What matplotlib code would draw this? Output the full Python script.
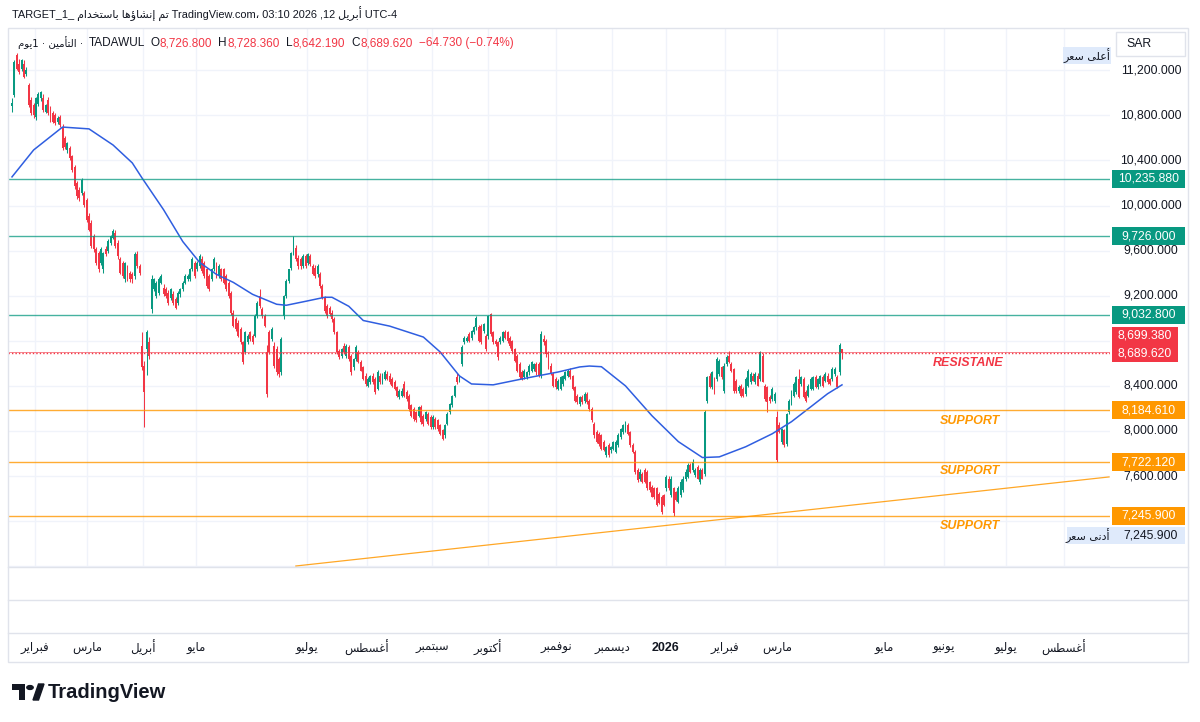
import numpy as np
import matplotlib
matplotlib.use("Agg")
import matplotlib.pyplot as plt
import matplotlib.transforms as mtrans
from matplotlib.patches import Rectangle, Circle, Polygon
from matplotlib.lines import Line2D

plt.rcParams['font.family'] = ['Liberation Sans', 'DejaVu Sans']

# ---------------- data ----------------
opens = [10880, 10980, 11333, 11259, 11215, 11259, 11171, 11068, 10935, 10891,
         10788, 10900, 10950, 10950, 10832, 10935, 10862, 10817, 10803, 10744,
         10788, 10700, 10597, 10494, 10508, 10435, 10346, 10199, 10140, 10111,
         10111, 10052, 9905, 9846, 9728, 9610, 9581, 9492, 9433, 9610,
         9595, 9669, 9713, 9757, 9669, 9522, 9492, 9345, 9448, 9404,
         9389, 9374, 9566, 9463, 8756, 8579, 8727, 8785, 9080, 9257,
         9198, 9227, 9316, 9271, 9257, 9227, 9183, 9212, 9168, 9139,
         9212, 9257, 9316, 9345, 9345, 9433, 9492, 9433, 9463, 9522,
         9492, 9433, 9374, 9345, 9433, 9478, 9374, 9433, 9433, 9374,
         9316, 9227, 9050, 8992, 8962, 8903, 8785, 8697, 8785, 8874,
         8844, 8844, 9021, 9198, 9080, 9021, 8700, 8874, 8815, 8756,
         8727, 8638, 8520, 9021, 9198, 9330, 9448, 9580, 9625, 9536,
         9522, 9463, 9551, 9492, 9551, 9463, 9448, 9389, 9389, 9286,
         9183, 9109, 9095, 9050, 8992, 8874, 8712, 8668, 8756, 8668,
         8741, 8668, 8565, 8638, 8697, 8609, 8565, 8491, 8402, 8432,
         8491, 8461, 8373, 8491, 8432, 8461, 8506, 8491, 8461, 8432,
         8388, 8300, 8314, 8417, 8343, 8314, 8226, 8196, 8167, 8137,
         8211, 8137, 8108, 8152, 8122, 8034, 8108, 8093, 8049, 8005,
         7960, 8064, 8167, 8226, 8314, 8476, 8447, 8594, 8785, 8800,
         8859, 8829, 8874, 8918, 8918, 8932, 8888, 8844, 8844, 9036,
         8874, 8800, 8785, 8785, 8800, 8874, 8874, 8829, 8800, 8726,
         8667, 8594, 8520, 8476, 8476, 8520, 8535, 8550, 8594, 8594,
         8491, 8815, 8800, 8697, 8579, 8506, 8461, 8373, 8373, 8417,
         8461, 8491, 8535, 8491, 8388, 8314, 8240, 8300, 8270, 8329,
         8270, 8196, 8064, 7990, 7975, 7961, 7902, 7784, 7872, 7828,
         7843, 7813, 7872, 7946, 7990, 8005, 8049, 7990, 7872, 7813,
         7651, 7578, 7622, 7651, 7637, 7549, 7504, 7490, 7490, 7445,
         7416, 7430, 7490, 7578, 7430, 7490, 7460, 7372, 7430, 7475,
         7578, 7593, 7696, 7651, 7607, 7681, 7549, 7651, 7622, 8270,
         8491, 8388, 8461, 8461, 8505, 8564, 8358, 8594, 8667, 8594,
         8550, 8447, 8358, 8402, 8373, 8329, 8402, 8432, 8491, 8432,
         8491, 8461, 8667, 8402, 8388, 8300, 8285, 8270, 8124, 8049,
         7902, 8005, 7887, 8167, 8240, 8314, 8344, 8461, 8417, 8461,
         8344, 8314, 8373, 8373, 8476, 8388, 8417, 8476, 8447, 8491,
         8461, 8461, 8506, 8476, 8520, 8726.8]
highs = [10950, 11290, 11350, 11300, 11300, 11290, 11230, 11090, 10960, 10910,
         10960, 11010, 11020, 10990, 10900, 10960, 10880, 10840, 10820, 10790,
         10800, 10720, 10620, 10560, 10530, 10450, 10360, 10220, 10160, 10240,
         10130, 10070, 9930, 9870, 9750, 9630, 9600, 9630, 9590, 9640,
         9700, 9740, 9790, 9780, 9690, 9540, 9510, 9500, 9470, 9420,
         9410, 9590, 9600, 9480, 8880, 8620, 8900, 8830, 9380, 9360,
         9330, 9370, 9390, 9300, 9280, 9250, 9270, 9240, 9190, 9240,
         9270, 9330, 9390, 9390, 9450, 9540, 9510, 9510, 9570, 9550,
         9510, 9450, 9390, 9450, 9540, 9500, 9480, 9450, 9450, 9390,
         9330, 9240, 9070, 9010, 8980, 8920, 8800, 8890, 8860, 8890,
         8860, 9040, 9150, 9260, 9100, 9040, 8760, 8900, 8920, 8790,
         8750, 8660, 8830, 9210, 9350, 9440, 9590, 9734, 9650, 9560,
         9540, 9570, 9570, 9580, 9570, 9480, 9470, 9480, 9410, 9300,
         9200, 9130, 9110, 9070, 9010, 8890, 8730, 8740, 8780, 8770,
         8760, 8680, 8650, 8760, 8720, 8630, 8580, 8510, 8480, 8500,
         8510, 8480, 8540, 8510, 8510, 8540, 8530, 8510, 8480, 8450,
         8400, 8370, 8380, 8440, 8360, 8330, 8240, 8210, 8180, 8220,
         8230, 8150, 8180, 8170, 8140, 8140, 8120, 8110, 8060, 8020,
         8060, 8170, 8250, 8320, 8410, 8510, 8500, 8760, 8840, 8840,
         8880, 8900, 8930, 9020, 8940, 8950, 8960, 8860, 9030, 9045,
         8890, 8820, 8800, 8840, 8890, 8900, 8890, 8840, 8810, 8740,
         8680, 8610, 8540, 8550, 8530, 8590, 8620, 8600, 8610, 8610,
         8888, 8850, 8820, 8710, 8600, 8520, 8480, 8460, 8490, 8500,
         8530, 8550, 8560, 8500, 8400, 8330, 8310, 8320, 8350, 8350,
         8280, 8210, 8080, 8010, 7990, 7975, 7920, 7870, 7890, 7870,
         7910, 7920, 7980, 8030, 8060, 8090, 8070, 8000, 7890, 7830,
         7670, 7660, 7640, 7670, 7650, 7560, 7520, 7500, 7500, 7460,
         7430, 7440, 7610, 7600, 7600, 7500, 7470, 7510, 7570, 7600,
         7660, 7720, 7720, 7750, 7670, 7700, 7670, 7670, 8190, 8490,
         8510, 8530, 8480, 8660, 8640, 8580, 8600, 8670, 8706, 8610,
         8560, 8460, 8410, 8420, 8390, 8480, 8550, 8520, 8510, 8520,
         8510, 8712, 8690, 8420, 8400, 8320, 8390, 8350, 8180, 8080,
         8030, 8020, 8160, 8280, 8360, 8430, 8490, 8550, 8490, 8480,
         8360, 8420, 8480, 8490, 8500, 8470, 8500, 8500, 8520, 8510,
         8470, 8570, 8570, 8500, 8780, 8728.36]
lows = [10830, 10960, 11200, 11170, 11190, 11130, 11150, 10870, 10800, 10780,
        10760, 10880, 10930, 10830, 10820, 10800, 10740, 10730, 10710, 10720,
        10700, 10490, 10500, 10470, 10400, 10300, 10150, 10060, 10040, 10090,
        9990, 9850, 9770, 9620, 9590, 9470, 9410, 9470, 9400, 9550,
        9580, 9650, 9700, 9620, 9530, 9390, 9360, 9320, 9330, 9320,
        9310, 9350, 9450, 9380, 8540, 8035, 8500, 8640, 9050, 9240,
        9180, 9210, 9300, 9200, 9180, 9120, 9160, 9120, 9080, 9120,
        9190, 9240, 9300, 9330, 9330, 9420, 9360, 9420, 9450, 9400,
        9360, 9270, 9240, 9330, 9420, 9360, 9360, 9330, 9300, 9240,
        9180, 9030, 8920, 8890, 8830, 8770, 8590, 8680, 8770, 8800,
        8770, 8830, 9000, 9090, 9000, 8920, 8300, 8680, 8800, 8560,
        8500, 8480, 8500, 8990, 9180, 9310, 9430, 9560, 9510, 9440,
        9440, 9450, 9450, 9470, 9460, 9380, 9360, 9370, 9270, 9170,
        9050, 9000, 9020, 8970, 8860, 8680, 8640, 8650, 8680, 8650,
        8620, 8500, 8540, 8620, 8600, 8530, 8450, 8400, 8390, 8420,
        8420, 8330, 8360, 8420, 8420, 8450, 8450, 8420, 8390, 8360,
        8300, 8285, 8300, 8300, 8270, 8180, 8120, 8090, 8080, 8120,
        8060, 8040, 8090, 8050, 8020, 8020, 8020, 8000, 7960, 7920,
        7940, 8050, 8150, 8210, 8300, 8420, 8430, 8580, 8770, 8790,
        8790, 8810, 8860, 8900, 8790, 8770, 8870, 8710, 8820, 8840,
        8770, 8750, 8630, 8770, 8790, 8820, 8780, 8740, 8690, 8610,
        8520, 8460, 8450, 8460, 8460, 8500, 8520, 8530, 8500, 8480,
        8470, 8760, 8660, 8550, 8500, 8390, 8370, 8360, 8360, 8400,
        8450, 8480, 8460, 8360, 8260, 8240, 8220, 8240, 8250, 8240,
        8180, 8080, 7940, 7890, 7870, 7830, 7820, 7770, 7770, 7800,
        7830, 7800, 7860, 7930, 7970, 7990, 7960, 7860, 7800, 7620,
        7550, 7560, 7540, 7540, 7480, 7460, 7410, 7400, 7330, 7350,
        7260, 7330, 7470, 7480, 7410, 7245.9, 7380, 7360, 7410, 7460,
        7560, 7580, 7630, 7640, 7590, 7570, 7530, 7570, 7600, 8250,
        8380, 8370, 8330, 8440, 8490, 8460, 8340, 8580, 8600, 8520,
        8340, 8340, 8340, 8300, 8300, 8310, 8390, 8420, 8440, 8420,
        8400, 8440, 8430, 8270, 8170, 8250, 8270, 8250, 7722, 7980,
        7880, 7860, 7870, 8150, 8230, 8300, 8330, 8290, 8400, 8290,
        8260, 8300, 8360, 8360, 8380, 8370, 8400, 8390, 8430, 8420,
        8410, 8440, 8490, 8380, 8500, 8642.19]
closes = [10910, 11274, 11215, 11186, 11289, 11141, 11200, 10891, 10817, 10803,
          10950, 10990, 11009, 10847, 10891, 10817, 10759, 10744, 10729, 10773,
          10714, 10508, 10523, 10552, 10420, 10317, 10170, 10081, 10066, 10228,
          10008, 9875, 9787, 9639, 9610, 9492, 9433, 9610, 9581, 9566,
          9684, 9728, 9772, 9639, 9551, 9404, 9374, 9492, 9345, 9345,
          9345, 9566, 9463, 9404, 8565, 8344, 8874, 8668, 9345, 9345,
          9316, 9345, 9374, 9212, 9198, 9139, 9257, 9139, 9095, 9227,
          9257, 9316, 9374, 9374, 9433, 9522, 9374, 9492, 9551, 9419,
          9374, 9286, 9257, 9433, 9522, 9374, 9463, 9345, 9316, 9257,
          9198, 9050, 8933, 8903, 8844, 8785, 8609, 8874, 8844, 8815,
          8785, 9021, 9139, 9109, 9021, 8933, 8330, 8697, 8903, 8579,
          8520, 8506, 8815, 9198, 9330, 9433, 9580, 9625, 9522, 9463,
          9463, 9551, 9463, 9566, 9478, 9389, 9374, 9463, 9286, 9183,
          9065, 9021, 9036, 8992, 8874, 8697, 8653, 8727, 8697, 8756,
          8638, 8520, 8638, 8741, 8609, 8535, 8461, 8417, 8461, 8491,
          8432, 8344, 8520, 8432, 8491, 8520, 8461, 8432, 8402, 8373,
          8314, 8358, 8358, 8314, 8285, 8196, 8137, 8108, 8093, 8211,
          8078, 8064, 8167, 8064, 8034, 8122, 8034, 8020, 7975, 7931,
          8049, 8152, 8240, 8314, 8402, 8432, 8491, 8741, 8829, 8829,
          8800, 8888, 8918, 9006, 8800, 8785, 8947, 8726, 9021, 8859,
          8785, 8770, 8653, 8829, 8874, 8829, 8800, 8756, 8712, 8623,
          8535, 8476, 8461, 8535, 8520, 8579, 8608, 8594, 8520, 8491,
          8859, 8785, 8682, 8564, 8506, 8402, 8388, 8447, 8476, 8491,
          8520, 8535, 8476, 8373, 8270, 8255, 8300, 8255, 8329, 8255,
          8196, 8093, 7961, 7902, 7887, 7843, 7828, 7858, 7784, 7858,
          7902, 7902, 7961, 8020, 8049, 8078, 7975, 7872, 7813, 7637,
          7563, 7637, 7549, 7549, 7490, 7475, 7416, 7416, 7342, 7357,
          7283, 7342, 7593, 7490, 7578, 7269, 7387, 7490, 7549, 7578,
          7637, 7696, 7637, 7725, 7651, 7578, 7651, 7578, 8167, 8476,
          8388, 8520, 8344, 8638, 8623, 8476, 8579, 8653, 8608, 8535,
          8358, 8358, 8388, 8314, 8314, 8461, 8535, 8506, 8447, 8506,
          8402, 8697, 8432, 8285, 8255, 8270, 8373, 8329, 7740, 7990,
          8020, 7872, 8152, 8270, 8344, 8417, 8476, 8300, 8476, 8300,
          8270, 8402, 8461, 8476, 8388, 8461, 8491, 8402, 8506, 8432,
          8417, 8550, 8550, 8388, 8762, 8689.62]

# moving average (read at selected bars)
ma_idx = [0, 9, 21, 32, 42, 50, 54, 63, 71, 78, 85, 92, 100, 110, 114, 122, 130, 133,
          140, 146, 157, 171, 178, 186, 191, 200, 214, 227, 236, 240, 245, 255, 266,
          277, 287, 294, 305, 316, 324, 332, 339, 345]
ma_val = [10254, 10493, 10696, 10680, 10537, 10378, 10246, 9963, 9680, 9495, 9389, 9318,
          9212, 9124, 9115, 9150, 9186, 9186, 9106, 8980, 8930, 8833, 8700, 8488, 8417,
          8409, 8470, 8523, 8568, 8576, 8570, 8400, 8135, 7905, 7764, 7770, 7860, 7975,
          8082, 8214, 8330, 8409]

trend_idx = [118, 456]
trend_val = [6802, 7592]

green_levels = [10235.88, 9726.0, 9032.8]
green_labels = ['10,235.880', '9,726.000', '9,032.800']
orange_levels = [8184.61, 7722.12, 7245.9]
orange_labels = ['8,184.610', '7,722.120', '7,245.900']
resistance_level = 8699.38
last_close = 8689.62

price_ticks = [11200, 10800, 10400, 10000, 9600, 9200, 8400, 8000, 7600]
price_tick_labels = ['11,200.000', '10,800.000', '10,400.000', '10,000.000', '9,600.000',
                     '9,200.000', '8,400.000', '8,000.000', '7,600.000']

month_pos = [9.6, 31.2, 54.4, 76.5, 122.6, 147.5, 174.6, 197.8, 226.1, 249.4, 271.8,
             296.3, 318.0, 362.4, 387.4, 413.1, 437.2]
month_names = ['فبراير', 'مارس', 'أبريل', 'مايو', 'يوليو', 'أغسطس', 'سبتمبر', 'أكتوبر',
               'نوفمبر', 'ديسمبر', '2026', 'فبراير', 'مارس', 'مايو', 'يونيو', 'يوليو', 'أغسطس']

# ---------------- Arabic shaping (presentation forms, visual order) ----------------
_AR = {'ء': (0xFE80, 0), 'آ': (0xFE81, 1), 'أ': (0xFE83, 1), 'ؤ': (0xFE85, 1), 'إ': (0xFE87, 1),
       'ئ': (0xFE89, 2), 'ا': (0xFE8D, 1), 'ب': (0xFE8F, 2), 'ة': (0xFE93, 1), 'ت': (0xFE95, 2),
       'ث': (0xFE99, 2), 'ج': (0xFE9D, 2), 'ح': (0xFEA1, 2), 'خ': (0xFEA5, 2), 'د': (0xFEA9, 1),
       'ذ': (0xFEAB, 1), 'ر': (0xFEAD, 1), 'ز': (0xFEAF, 1), 'س': (0xFEB1, 2), 'ش': (0xFEB5, 2),
       'ص': (0xFEB9, 2), 'ض': (0xFEBD, 2), 'ط': (0xFEC1, 2), 'ظ': (0xFEC5, 2), 'ع': (0xFEC9, 2),
       'غ': (0xFECD, 2), 'ف': (0xFED1, 2), 'ق': (0xFED5, 2), 'ك': (0xFED9, 2), 'ل': (0xFEDD, 2),
       'م': (0xFEE1, 2), 'ن': (0xFEE5, 2), 'ه': (0xFEE9, 2), 'و': (0xFEED, 1), 'ى': (0xFEEF, 1),
       'ي': (0xFEF1, 2)}
_LA = {'آ': 0xFEF5, 'أ': 0xFEF7, 'إ': 0xFEF9, 'ا': 0xFEFB}


def shape(s):
    toks = []
    i = 0
    while i < len(s):
        c = s[i]
        if c == 'ل' and i + 1 < len(s) and s[i + 1] in _LA:
            toks.append((c, 1, _LA[s[i + 1]]))
            i += 2
            continue
        if c in _AR:
            b, t = _AR[c]
            toks.append((c, t, b))
        else:
            toks.append((c, -1, None))
        i += 1
    out = []
    for k, (c, t, b) in enumerate(toks):
        if t < 0:
            out.append(c)
            continue
        pj = k > 0 and toks[k - 1][1] == 2 and t > 0
        nj = t == 2 and k + 1 < len(toks) and toks[k + 1][1] > 0
        if pj and nj:
            code = b + 3
        elif pj:
            code = b + 1
        elif nj:
            code = b + 2
        else:
            code = b
        out.append(chr(code))
    return ''.join(reversed(out))


# ---------------- figure ----------------
W, H = 1200, 722
fig = plt.figure(figsize=(12, 7.22), dpi=100)
fig.patch.set_facecolor('white')


def fx(px):
    return px / W


def fy(py):
    return 1 - py / H


AX_L, AX_R, AX_T, AX_B = 8, 1110, 28, 567
ax = fig.add_axes([fx(AX_L), fy(AX_B), fx(AX_R) - fx(AX_L), fy(AX_T) - fy(AX_B)])
YTOP, YBOT = 11575.0, 6793.0
ax.set_xlim(-1.66, 456.4)
ax.set_ylim(YBOT, YTOP)
for s in ax.spines.values():
    s.set_visible(False)
ax.set_xticks([])
ax.set_yticks([])
ax.set_facecolor('white')
PPX = (YTOP - YBOT) / (AX_B - AX_T)   # price per pixel


def price_at(py):
    return YTOP - (py - AX_T) * PPX


GRID = '#f0f3fa'
for p in range(6800, 11601, 400):
    ax.axhline(p, color=GRID, lw=1, zorder=0)
for m in month_pos:
    ax.axvline(m, color=GRID, lw=1, zorder=0)

# candles
n = min(len(opens), len(highs), len(lows), len(closes))
o = np.array(opens[:n], float)
h = np.array(highs[:n], float)
l = np.array(lows[:n], float)
c = np.array(closes[:n], float)
x = np.arange(n)
up = c >= o
cols = np.where(up, '#089981', '#f23645')
ax.vlines(x, l, h, colors=cols, lw=0.75, zorder=2)
body = np.maximum(np.abs(c - o), 6)
ax.bar(x, body, bottom=np.minimum(o, c), width=0.8, color=cols, linewidth=0, zorder=2)

# moving average
ax.plot(ma_idx, ma_val, color='#2f5ee0', lw=1.1, zorder=3)

# horizontal levels
for v in green_levels:
    ax.axhline(v, color='#089981', lw=1.0, alpha=0.75, zorder=3)
for v in orange_levels:
    ax.axhline(v, color='#ff9800', lw=1.0, alpha=0.8, zorder=3)
ax.axhline(resistance_level, color='#f23645', lw=0.7, alpha=0.6, zorder=3)
ax.axhline(last_close, color='#f23645', lw=1.0, ls=(0, (1, 1.5)), zorder=3)
ax.plot(trend_idx, trend_val, color='#ff9800', lw=0.9, alpha=0.85, zorder=3)

# annotations
ax.text(397.5, price_at(363), 'RESISTANE', color='#f23645', fontsize=9, fontweight='bold',
        fontstyle='italic', ha='center', va='center', zorder=4)
for py in (421, 471, 526):
    ax.text(398.0, price_at(py), 'SUPPORT', color='#ff9800', fontsize=9, fontweight='bold',
            fontstyle='italic', ha='center', va='center', zorder=4)

# ---------------- price scale ----------------
tr = mtrans.blended_transform_factory(fig.transFigure, ax.transData)
for p, lab in zip(price_ticks, price_tick_labels):
    ax.text(fx(1151), p, lab, transform=tr, ha='center', va='center', fontsize=8.8,
            color='#131722', clip_on=False)


def level_box(v, lab, color):
    hh = 18 * PPX
    ax.add_patch(Rectangle((fx(1112), v - hh / 2), fx(1185) - fx(1112), hh, transform=tr,
                           facecolor=color, edgecolor='none', clip_on=False, zorder=6))
    ax.text(fx(1148.5), v, lab, transform=tr, ha='center', va='center', fontsize=8.8,
            color='white', clip_on=False, zorder=7)


for v, lab in zip(green_levels, green_labels):
    level_box(v, lab, '#089981')
for v, lab in zip(orange_levels, orange_labels):
    level_box(v, lab, '#ff9800')


def fig_rect(x0, y0, x1, y1, fc, ec='none', lw=1, z=6):
    fig.add_artist(Rectangle((fx(x0), fy(y1)), fx(x1) - fx(x0), fy(y0) - fy(y1),
                             transform=fig.transFigure, facecolor=fc, edgecolor=ec, lw=lw,
                             zorder=z))


def fig_text(px, py, s, **kw):
    return fig.text(fx(px), fy(py), s, **kw)


# red (resistance / last price) double box
fig_rect(1112, 327, 1178, 362, '#f23645')
fig_text(1145, 335.5, '8,699.380', ha='center', va='center', fontsize=8.8, color='white', zorder=7)
fig_text(1145, 353.5, '8,689.620', ha='center', va='center', fontsize=8.8, color='white', zorder=7)

# SAR box
fig_rect(1116, 32, 1185, 56, 'white', ec='#e0e3eb')
fig_text(1126, 44, 'SAR', ha='left', va='center', fontsize=8.8, color='#131722', zorder=7)

# high / low labels
fig_rect(1063, 47, 1111, 64, '#dfeafb')
fig_text(1087, 55.5, shape('أعلى سعر'), ha='center', va='center', fontsize=8,
         color='#131722', zorder=7, family=['DejaVu Sans'])
fig_rect(1067, 527, 1185, 544, '#dfeafb')
fig_text(1088, 535.5, shape('أدنى سعر'), ha='center', va='center', fontsize=8,
         color='#131722', zorder=7, family=['DejaVu Sans'])
fig_text(1151, 535.5, '7,245.900', ha='center', va='center', fontsize=8.8,
         color='#131722', zorder=7)

# ---------------- time axis ----------------
trx = mtrans.blended_transform_factory(ax.transData, fig.transFigure)
for m, name in zip(month_pos, month_names):
    if name.isdigit():
        ax.text(m, fy(648), name, transform=trx, ha='center', va='center', fontsize=9,
                fontweight='bold', color='#131722', clip_on=False)
    else:
        ax.text(m, fy(648), shape(name), transform=trx, ha='center', va='center', fontsize=8.5,
                color='#131722', clip_on=False, family=['DejaVu Sans'])

# ---------------- frame & pane separators ----------------
SEP = '#e0e3eb'
fig_rect(8, 28, 1188, 662, 'none', ec=SEP, z=1)
for py in (567, 600, 633):
    fig.add_artist(Line2D([fx(8), fx(1188)], [fy(py), fy(py)], color=SEP, lw=1,
                          transform=fig.transFigure))

# ---------------- header ----------------
header = ('TARGET_1_ ' + shape('تم إنشاؤها باستخدام') + ' TradingView.com، 03:10 2026 ,12 '
          + shape('أبريل') + ' UTC-4')
fig_text(12, 14, header, ha='left', va='center', fontsize=7.9, color='#131722')

DARK, RED = '#131722', '#f23645'
legend_pieces = [(shape('التأمين · 1يوم') + ' ·', DARK, 6, 7.3, ['DejaVu Sans']),
                 ('TADAWUL', DARK, 5, 8.5, None),
                 ('O', DARK, 0.5, 8.5, None), ('8,726.800', RED, 6, 8.5, None),
                 ('H', DARK, 0.5, 8.5, None), ('8,728.360', RED, 6, 8.5, None),
                 ('L', DARK, 0.5, 8.5, None), ('8,642.190', RED, 6, 8.5, None),
                 ('C', DARK, 0.5, 8.5, None), ('8,689.620', RED, 6, 8.5, None),
                 ('−64.730 (−0.74%)', RED, 0, 8.5, None)]
fig.canvas.draw()
renderer = fig.canvas.get_renderer()
xcur = 18.0
for s, col, gap, fs, fam in legend_pieces:
    kw = dict(ha='left', va='center', fontsize=fs, color=col)
    if fam:
        kw['family'] = fam
    t = fig_text(xcur, 43, s, **kw)
    bb = t.get_window_extent(renderer=renderer)
    xcur = bb.x1 + gap

# ---------------- TradingView logo ----------------
LOGO = '#131722'
fig_rect(12, 684, 25, 690, LOGO, z=8)
fig_rect(19, 684, 25, 700, LOGO, z=8)
fig.add_artist(Circle((fx(30), fy(687.5)), 3.2 / W, transform=fig.transFigure, color=LOGO))
fig.add_artist(Polygon([[fx(33), fy(700)], [fx(38.5), fy(700)], [fx(44), fy(684)], [fx(38.5), fy(684)]],
                       closed=True, transform=fig.transFigure, color=LOGO))
fig_text(48, 692, 'TradingView', ha='left', va='center', fontsize=14.5, fontweight='bold',
         color=LOGO)

fig.savefig('out.png', dpi=100, facecolor='white')
